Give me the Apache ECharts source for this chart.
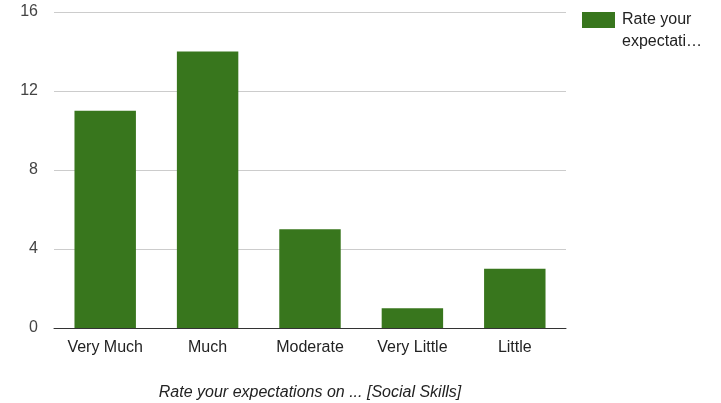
<!DOCTYPE html>
<html><head><meta charset="utf-8">
<script src="https://cdn.jsdelivr.net/npm/echarts@6/dist/echarts.min.js"></script>
<style>html,body{margin:0;padding:0;background:#fff}#c{width:721px;height:403px}</style>
</head><body><div id="c"></div>
<script>
const categories = ['Very Much', 'Much', 'Moderate', 'Very Little', 'Little'];
const values = [11, 14, 5, 1, 3];
const yTicks = [0, 4, 8, 12, 16];
const seriesName = 'Rate your expectations on ... [Social Skills]';
const legendText = '\u00a0\nRate your\nexpectati…';
const axisTitle = 'Rate your expectations on ... [Social Skills]';

const chart = echarts.init(document.getElementById('c'));
chart.setOption({
  animation: false,
  textStyle: {fontFamily: 'Liberation Sans, Arial, sans-serif'},
  grid: {left: 54, right: 155, top: 12, bottom: 75, containLabel: false, outerBoundsMode: 'none'},
  legend: {
    left: 582, top: -13, orient: 'vertical', padding: 0,
    itemWidth: 33, itemHeight: 16, itemGap: 10,
    icon: 'rect',
    formatter: () => legendText,
    textStyle: {fontSize: 16, color: '#222', lineHeight: 22, padding: [0, 0, 0, 2]}
  },
  xAxis: {
    type: 'category', data: categories,
    name: axisTitle, nameLocation: 'middle', nameGap: 57,
    nameTextStyle: {fontStyle: 'italic', fontSize: 16, color: '#222'},
    axisTick: {show: false},
    axisLine: {lineStyle: {color: '#333', width: 1}},
    axisLabel: {fontSize: 16, color: '#222', margin: 12}
  },
  yAxis: {
    type: 'value', min: yTicks[0], max: yTicks[yTicks.length - 1], interval: 4,
    axisLine: {show: false}, axisTick: {show: false},
    splitLine: {lineStyle: {color: '#cccccc'}},
    axisLabel: {fontSize: 16, color: '#444', margin: 16}
  },
  series: [{
    name: seriesName, type: 'bar', data: values,
    barWidth: '60%',
    itemStyle: {color: '#38761d'}
  }]
});
</script></body></html>
